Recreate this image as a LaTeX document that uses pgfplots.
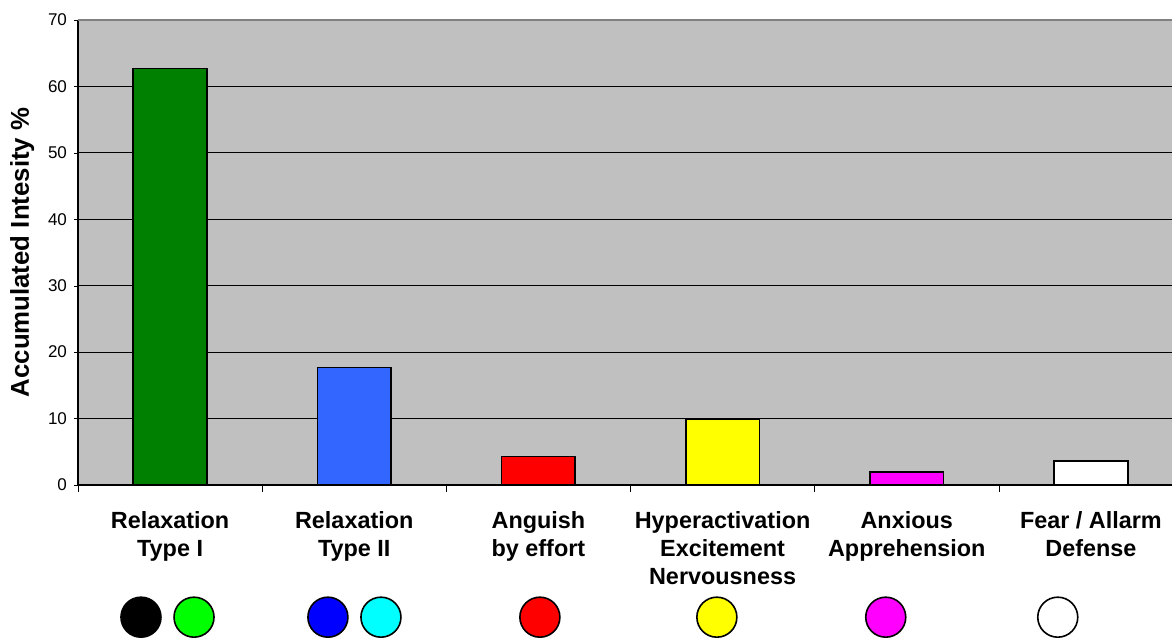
\documentclass[border=0pt]{standalone}
\usepackage{pgfplots}
\pgfplotsset{compat=1.18}
\usepackage{fontspec}
\setmainfont{Liberation Sans}
\definecolor{PlotGray}{HTML}{C0C0C0}
\definecolor{BarGreen}{HTML}{008000}
\definecolor{BarBlue}{HTML}{3366FF}
\definecolor{PureRed}{HTML}{FF0000}
\definecolor{PureYellow}{HTML}{FFFF00}
\definecolor{PureMagenta}{HTML}{FF00FF}
\definecolor{DotGreen}{HTML}{00FF00}
\definecolor{DotBlue}{HTML}{0000FF}
\definecolor{DotCyan}{HTML}{00FFFF}

\pgfplotsset{
  onebar/.style={ybar, bar width=0.4, bar shift=0pt, draw=black, line width=0.8pt, fill=#1},
  dot/.style={only marks, mark=*, mark size=10pt, mark options={draw=black, line width=0.8pt, fill=#1}},
}

\begin{document}
\begin{tikzpicture}
\useasboundingbox (-39pt,-77.5pt) rectangle (547pt,242.5pt);
\begin{axis}[
    scale only axis,
    width=552.5pt, height=232.5pt,
    xmin=0, xmax=6, ymin=0, ymax=70,
    clip=false,
    axis background/.style={fill=PlotGray},
    axis x line*=bottom, axis y line*=left,
    axis line style={black, line width=0.6pt},
    ytick={0,10,...,70},
    ymajorgrids,
    major grid style={black, line width=0.5pt},
    xtick={0.5,1.5,...,5.5},
    xticklabels={{Relaxation\\Type I},{Relaxation\\Type II},{Anguish\\by effort},{Hyperactivation\\Excitement\\Nervousness},{Anxious\\Apprehension},{Fear / Allarm\\Defense}},
    minor xtick={0,1,...,6},
    tick align=outside,
    major tick length=2pt,
    minor tick length=3.5pt,
    xtick style={draw=none},
    minor x tick style={draw=black},
    ytick style={black},
    xticklabel style={font=\fontsize{11.7}{14}\selectfont\bfseries, align=center, anchor=north, yshift=-7.5pt},
    yticklabel style={font=\fontsize{8.5}{10}\selectfont},
    /pgf/number format/assume math mode=true,
    ylabel={Accumulated Intesity \%},
    ylabel style={font=\fontsize{12.9}{14}\selectfont\bfseries},
  ]
  % top border
  \addplot[gray, line width=0.6pt] coordinates {(0,70) (6,70)};
  \addplot[onebar=BarGreen] coordinates {(0.5,62.7)};
  \addplot[onebar=BarBlue] coordinates {(1.5,17.7)};
  \addplot[onebar=PureRed] coordinates {(2.5,4.3)};
  \addplot[onebar=PureYellow] coordinates {(3.5,9.9)};
  \addplot[onebar=PureMagenta] coordinates {(4.5,2.0)};
  \addplot[onebar=white] coordinates {(5.5,3.6)};
  % colour dots under the categories
  \addplot[dot=black] coordinates {(0.342,-19.9)};
  \addplot[dot=DotGreen] coordinates {(0.630,-19.9)};
  \addplot[dot=DotBlue] coordinates {(1.357,-19.9)};
  \addplot[dot=DotCyan] coordinates {(1.645,-19.9)};
  \addplot[dot=PureRed] coordinates {(2.508,-19.9)};
  \addplot[dot=PureYellow] coordinates {(3.469,-19.9)};
  \addplot[dot=PureMagenta] coordinates {(4.386,-19.9)};
  \addplot[dot=white] coordinates {(5.320,-19.9)};
\end{axis}
\end{tikzpicture}
\end{document}
